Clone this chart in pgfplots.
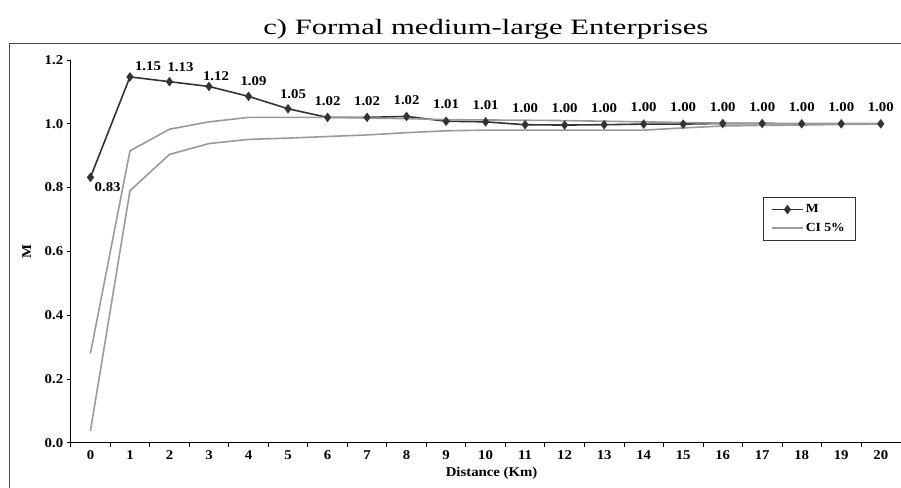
\documentclass[border=0pt]{standalone}
\usepackage{fontspec}
\setmainfont{Liberation Serif}
\newfontfamily\chartfont{Liberation Serif}[FakeStretch=1.1]
\newfontfamily\titlefont{Liberation Serif}[FakeStretch=1.4]
\usepackage{pgfplots}
\pgfplotsset{compat=1.18}
\definecolor{mline}{HTML}{333333}
\definecolor{ciline}{HTML}{9A9A9A}
\pgfplotsset{
  lbl/.style={forget plot, draw=none, mark=none,
    nodes near coords={\pgfmathprintnumber[fixed,fixed zerofill,precision=2,assume math mode=true]{\pgfplotspointmeta}},
    every node near coord/.append style={font=\chartfont\fontsize{13.5}{15}\selectfont\bfseries, text=black, inner sep=0bp}},
}
\begin{document}
\begin{tikzpicture}[x=1bp,y=1bp]
\clip (-70.7,-45.3) rectangle (830.3,442.7);
\draw[color=black!70, line width=1bp] (-60.7,-80) -- (-60.7,398.7) -- (900,398.7);
\node[font=\titlefont\fontsize{22}{24}\selectfont, anchor=base, inner sep=0pt] at (415.1,407.7) {c) Formal medium-large Enterprises};
\begin{axis}[
  at={(0,0)}, anchor=south west,
  scale only axis, width=829.8bp, height=382.7bp,
  xmin=-0.5, xmax=20.5, ymin=0, ymax=1.2,
  axis x line=bottom, axis y line=left,
  axis line style={-, line width=0.8bp, black},
  xtick={0,...,20},
  major x tick style={draw=none},
  minor xtick={-0.5,0.5,...,19.5},
  ytick={0,0.2,0.4,0.6,0.8,1.0,1.2},
  tick align=outside,
  major tick length=4bp, minor tick length=4bp,
  tick style={line width=0.8bp, black},
  tick label style={font=\chartfont\fontsize{13.5}{15}\selectfont\bfseries},
  /pgf/number format/assume math mode=true,
  yticklabel style={/pgf/number format/.cd, fixed, fixed zerofill, precision=1},
  xlabel={Distance (Km)},
  xlabel style={at={(axis description cs:0.5,0)}, anchor=center, yshift=-30.3bp, xshift=6bp, font=\chartfont\fontsize{13.5}{15}\selectfont\bfseries},
  ylabel={M},
  ylabel style={at={(axis description cs:-0.053,0.5)}, anchor=center, font=\chartfont\fontsize{13.5}{15}\selectfont\bfseries},
  legend style={at={(axis description cs:0.834,0.641)}, anchor=north west,
    draw=black!80, line width=0.8bp, font=\chartfont\fontsize{12.5}{14}\selectfont\bfseries,
    row sep=5bp, inner xsep=8bp, inner ysep=5bp},
  legend cell align=left,
  legend image code/.code={\draw[mark repeat=2,mark phase=2,#1] plot coordinates {(0bp,0bp) (15.5bp,0bp) (31bp,0bp)};},
  clip=false,
]
\addplot[color=mline, line width=1.6bp, mark=diamond*, mark size=3.5bp, mark options={fill=mline, solid}] coordinates {
(0,0.832) (1,1.147) (2,1.132) (3,1.117) (4,1.086) (5,1.047) (6,1.020) (7,1.020) (8,1.023) (9,1.008) (10,1.006)
(11,0.997) (12,0.996) (13,0.997) (14,0.999) (15,0.999) (16,1.001) (17,1.001) (18,1.000) (19,1.000) (20,1.000)};
\addlegendentry{M}
\addplot[color=ciline, line width=1.6bp] coordinates {
(0,0.280) (1,0.915) (2,0.983) (3,1.006) (4,1.020) (5,1.020) (6,1.020) (7,1.018) (8,1.016) (9,1.013) (10,1.012)
(11,1.011) (12,1.010) (13,1.008) (14,1.006) (15,1.004) (16,1.002) (17,1.001) (18,1.000) (19,1.000) (20,1.000)};
\addlegendentry{CI 5\%}
\addplot[color=ciline, line width=1.6bp, forget plot] coordinates {
(0,0.037) (1,0.790) (2,0.904) (3,0.938) (4,0.951) (5,0.955) (6,0.960) (7,0.965) (8,0.972) (9,0.978) (10,0.980)
(11,0.980) (12,0.980) (13,0.980) (14,0.980) (15,0.987) (16,0.993) (17,0.995) (18,0.996) (19,0.998) (20,0.999)};
% data labels
\addplot[lbl, every node near coord/.append style={anchor=south, xshift=18bp, yshift=6bp}] coordinates {(1,1.147)};
\addplot[lbl, every node near coord/.append style={anchor=south, xshift=11bp, yshift=10bp}] coordinates {(2,1.132)};
\addplot[lbl, every node near coord/.append style={anchor=south, xshift=7bp, yshift=6bp}] coordinates {(3,1.117)};
\addplot[lbl, every node near coord/.append style={anchor=south, xshift=5bp, yshift=10bp}] coordinates {(4,1.086) (5,1.047)};
\addplot[lbl, every node near coord/.append style={anchor=south, xshift=0bp, yshift=12bp}] coordinates {
(6,1.020) (7,1.020) (8,1.023) (9,1.008) (10,1.006) (11,0.997) (12,0.996) (13,0.997) (14,0.999) (15,0.999)
(16,1.001) (17,1.001) (18,1.000) (19,1.000) (20,1.000)};
\addplot[lbl, every node near coord/.append style={anchor=north west, xshift=4bp, yshift=-5bp}] coordinates {(0,0.832)};
\end{axis}
\end{tikzpicture}
\end{document}
